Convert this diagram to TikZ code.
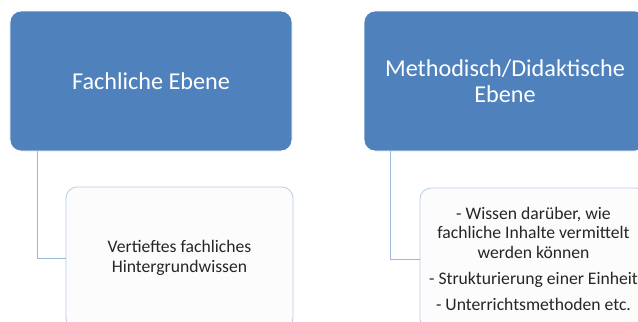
\documentclass[tikz,border=0pt]{standalone}
\usepackage{fontspec}
\setmainfont{Carlito}
\begin{document}
\begin{tikzpicture}[x=1bp,y=-1bp,
  topbox/.style={rectangle, rounded corners=11bp, fill=topblue, draw=white, line width=0.8bp,
    minimum width=282bp, minimum height=140bp, text=white, align=center,
    font=\fontsize{24.3}{26.5}\selectfont, inner sep=0pt},
  subbox/.style={rectangle, rounded corners=11bp, fill=subfill, draw=subborder, line width=0.8bp,
    minimum width=227bp, minimum height=142bp, text=black!85, align=center,
    font=\fontsize{17.7}{19.5}\selectfont, inner sep=0pt},
  conn/.style={draw=connblue, line width=1bp}]
\definecolor{topblue}{HTML}{4F81BD}
\definecolor{subfill}{HTML}{FCFCFD}
\definecolor{subborder}{HTML}{B9CDE5}
\definecolor{connblue}{HTML}{9DB7D9}
\useasboundingbox (0,0) rectangle (638,321);
\clip (0,0) rectangle (638,321);
\fill[white] (0,0) rectangle (638,321);
\node[topbox] (lt) at (151,81) {Fachliche Ebene};
\node[topbox] (rt) at (505,81) {Methodisch/Didaktische\\Ebene};
\node[subbox] (lc) at (179.5,258) {Vertieftes fachliches\\Hintergrundwissen};
\node[subbox] (rc) at (533.5,259) {- Wissen darüber, wie\\fachliche Inhalte vermittelt\\werden können\\[7bp]- Strukturierung einer Einheit\\[7bp]- Unterrichtsmethoden etc.};
\draw[conn] ([xshift=28bp]lt.south west) |- (lc.west);
\draw[conn] ([xshift=27bp]rt.south west) |- (rc.west);
\end{tikzpicture}
\end{document}
